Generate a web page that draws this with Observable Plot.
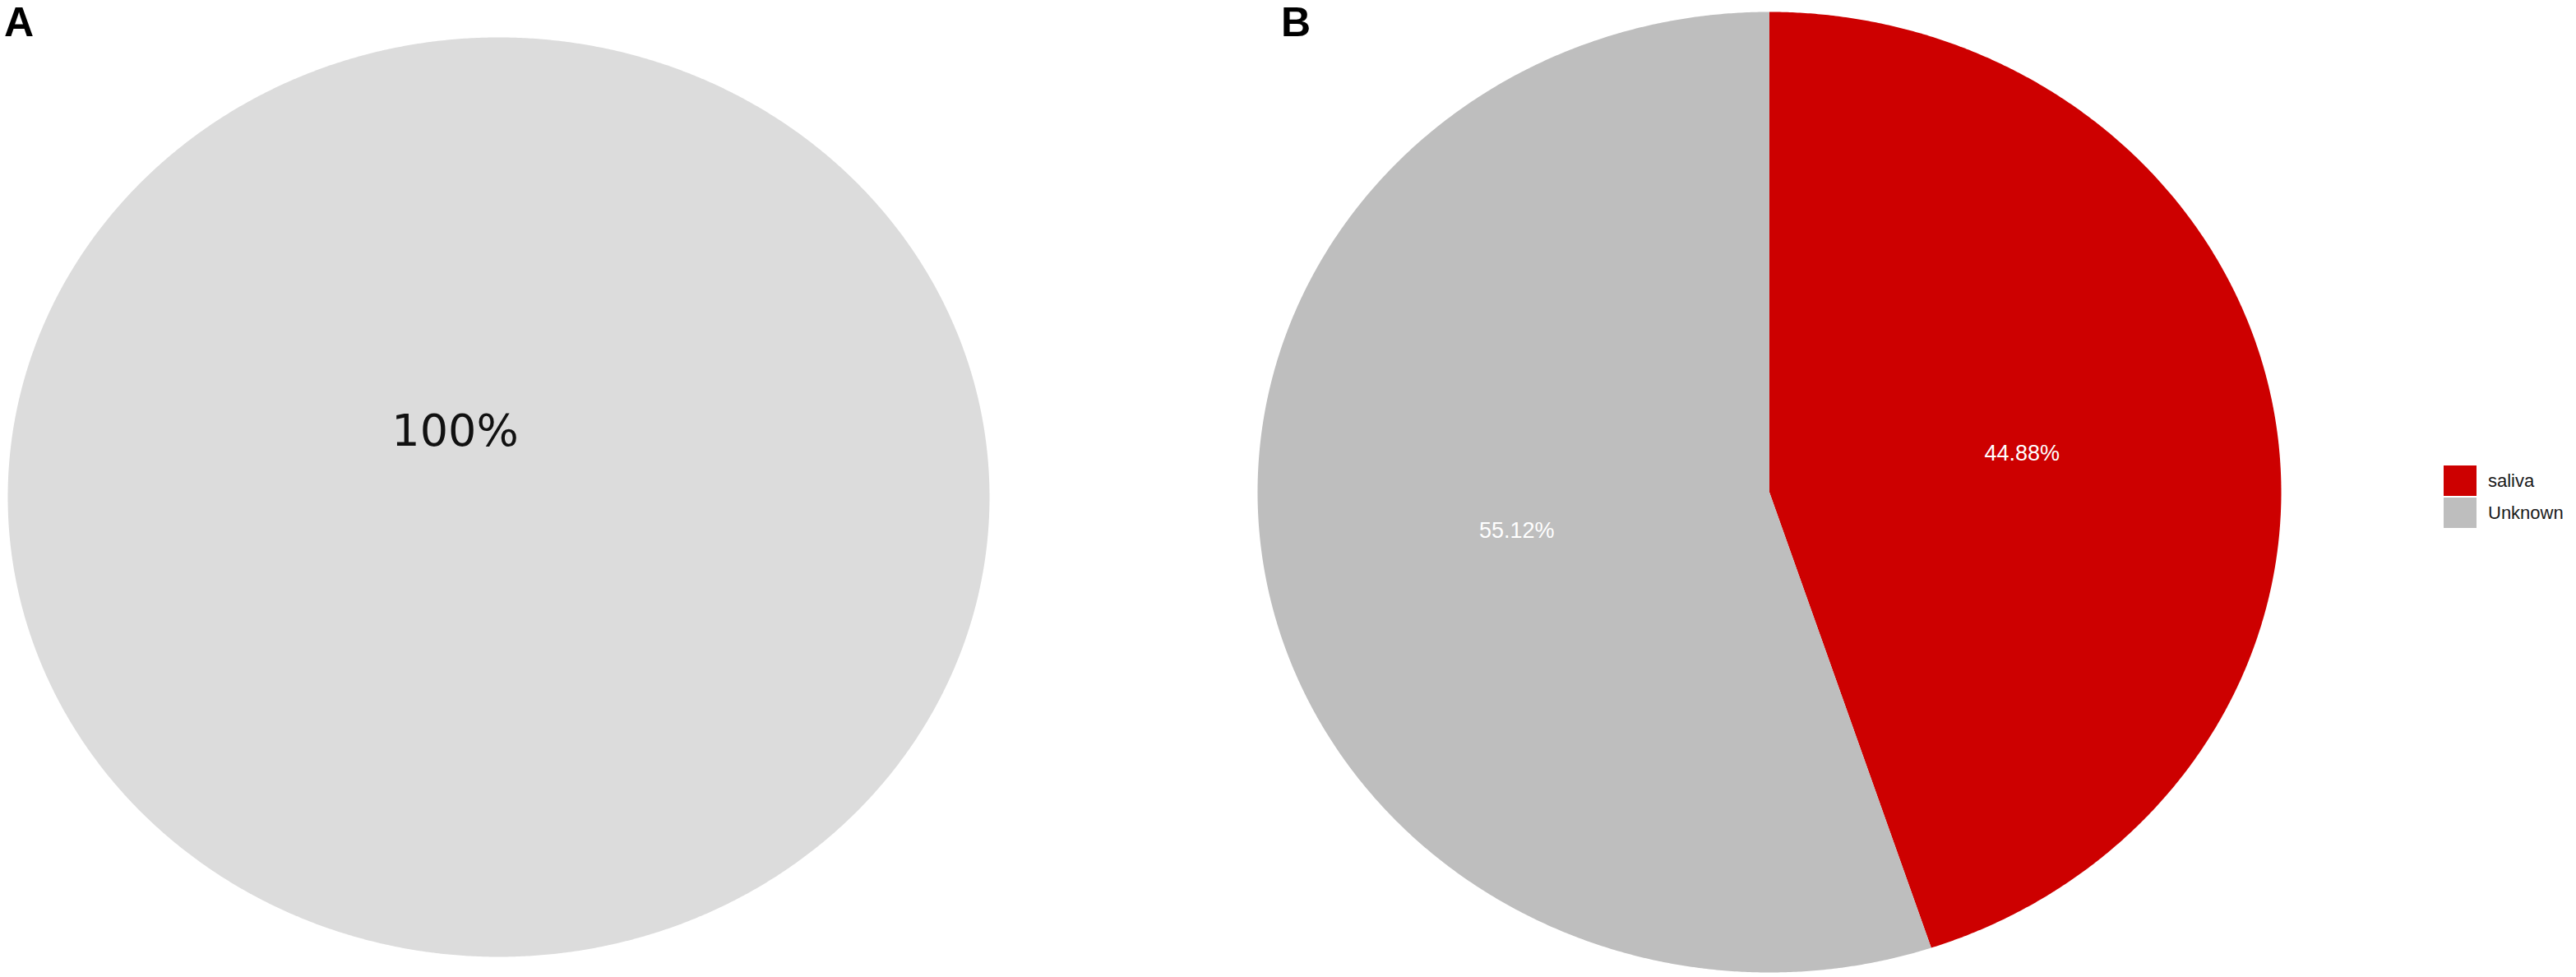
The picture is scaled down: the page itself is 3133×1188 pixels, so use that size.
<!DOCTYPE html>
<html>
<head>
<meta charset="utf-8">
<script src="https://cdn.jsdelivr.net/npm/d3@7"></script>
<script src="https://cdn.jsdelivr.net/npm/@observablehq/plot@0.6"></script>
<style>
  html, body { margin: 0; padding: 0; background: #ffffff; }
  #page { position: relative; width: 3133px; height: 1188px; overflow: hidden; background: #fff; }
  .panel { position: absolute; top: 0; }
  .tag { position: absolute; font-family: "Liberation Sans", Arial, sans-serif; font-weight: bold; font-size: 50px; line-height: 1; }
  #legend { position: absolute; left: 2972px; top: 566px; font-family: "Liberation Sans", Arial, sans-serif; font-size: 22px; color: #1a1a1a; }
  #legend .row { display: flex; align-items: center; height: 37px; margin-bottom: 2px; }
  #legend .sw { width: 40px; height: 37px; margin-right: 14px; }
</style>
</head>
<body>
<div id="page">
  <div class="tag" style="left:5px; top:2px;">A</div>
  <div class="tag" style="left:1558px; top:2px;">B</div>
  <div id="panelA" class="panel" style="left:0px;"></div>
  <div id="panelB" class="panel" style="left:1240px;"></div>
  <div id="legend"></div>
</div>
<script>
// ---- data ----
const categoriesA = ["All"];
const valuesA = [100];
const labelsA = ["100%"];
const colorsA = ["#DCDCDC"];

const categoriesB = ["saliva", "Unknown"];
const valuesB = [44.88, 55.12];
const labelsB = ["44.88%", "55.12%"];
const colorsB = ["#CD0000", "#BEBEBE"];

// ---- pie geometry (unit circle, clockwise from 12 o'clock) ----
function slices(categories, values) {
  const total = d3.sum(values);
  let acc = 0;
  const pts = [];
  const mids = [];
  categories.forEach((cat, i) => {
    const a0 = acc / total * 2 * Math.PI;
    acc += values[i];
    const a1 = acc / total * 2 * Math.PI;
    const full = values[i] >= total;
    if (!full) pts.push({cat, x: 0, y: 0});
    const n = Math.max(2, Math.ceil((a1 - a0) / 0.005));
    for (let k = 0; k <= n; k++) {
      const t = a0 + (a1 - a0) * k / n;
      pts.push({cat, x: Math.sin(t), y: Math.cos(t)});
    }
    if (!full) pts.push({cat, x: 0, y: 0});
    const m = (a0 + a1) / 2;
    mids.push({cat, x: full ? 0 : 0.5 * Math.sin(m), y: full ? 0 : 0.5 * Math.cos(m)});
  });
  return {pts, mids};
}

// ---- Panel A ----
const A = slices(categoriesA, valuesA);
A.mids.forEach((d, i) => d.label = labelsA[i]);
const plotA = Plot.plot({
  width: 1240, height: 1188,
  margin: 0,
  x: {domain: [-1, 1], range: [9, 1203], axis: null},
  y: {domain: [-1, 1], range: [1163, 45], axis: null},
  color: {domain: categoriesA, range: colorsA},
  style: {background: "transparent", overflow: "visible"},
  marks: [
    Plot.line(A.pts, {x: "x", y: "y", z: "cat", fill: "cat", stroke: "none", curve: "linear"}),
    Plot.text(A.mids, {x: "x", y: "y", text: "label", dx: -53, dy: -80, fill: "#111111",
      fontSize: 54, fontFamily: "DejaVu Sans", letterSpacing: -2, textAnchor: "middle", lineAnchor: "middle"})
  ]
});
document.getElementById("panelA").appendChild(plotA);

// ---- Panel B ----
const B = slices(categoriesB, valuesB);
B.mids.forEach((d, i) => d.label = labelsB[i]);
const plotB = Plot.plot({
  width: 1893, height: 1188,
  margin: 0,
  x: {domain: [-1, 1], range: [1529 - 1240, 2774 - 1240], axis: null},
  y: {domain: [-1, 1], range: [1182, 14], axis: null},
  color: {domain: categoriesB, range: colorsB},
  style: {background: "transparent", overflow: "visible"},
  marks: [
    Plot.line(B.pts, {x: "x", y: "y", z: "cat", fill: "cat", stroke: "none", curve: "linear"}),
    Plot.text(B.mids, {x: "x", y: "y", text: "label", fill: "#ffffff",
      fontSize: 27, fontFamily: "Liberation Sans", textAnchor: "middle", lineAnchor: "middle"})
  ]
});
document.getElementById("panelB").appendChild(plotB);

// ---- Legend ----
const legend = document.getElementById("legend");
categoriesB.forEach((c, i) => {
  const row = document.createElement("div");
  row.className = "row";
  const sw = document.createElement("div");
  sw.className = "sw";
  sw.style.background = colorsB[i];
  const lab = document.createElement("span");
  lab.textContent = c;
  row.appendChild(sw);
  row.appendChild(lab);
  legend.appendChild(row);
});
</script>
</body>
</html>
